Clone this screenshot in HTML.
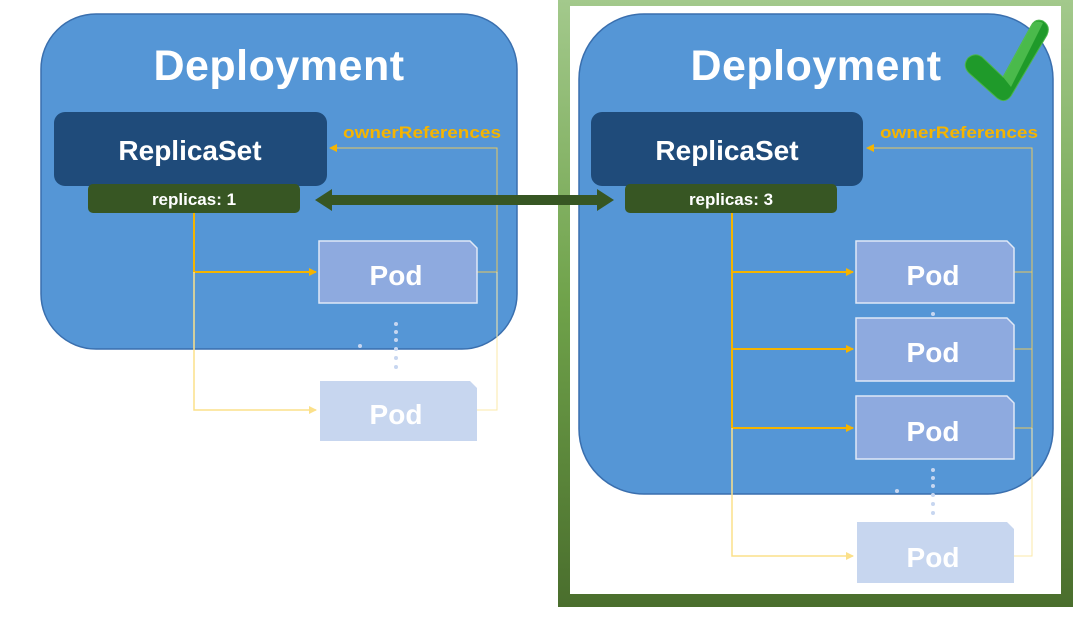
<!DOCTYPE html>
<html><head><meta charset="utf-8"><style>
html,body{margin:0;padding:0;background:#fff;}
svg{display:block;font-family:"Liberation Sans",sans-serif;}
.t{fill:#fff;font-weight:bold;text-anchor:middle;}
</style></head><body>
<svg width="1085" height="617" viewBox="0 0 1085 617">
<defs>
<linearGradient id="fr" x1="0" y1="0" x2="0" y2="1">
<stop offset="0" stop-color="#a3c98c"/><stop offset="0.5" stop-color="#6fa24a"/><stop offset="1" stop-color="#4a6e2d"/>
</linearGradient>
<marker id="ay" markerWidth="8" markerHeight="8" refX="7" refY="4" orient="auto" markerUnits="userSpaceOnUse"><path d="M0,0 L8,4 L0,8z" fill="#f5b400"/></marker>
<marker id="ayf" markerWidth="8" markerHeight="8" refX="7" refY="4" orient="auto" markerUnits="userSpaceOnUse"><path d="M0,0 L8,4 L0,8z" fill="#fbe08a"/></marker>
</defs>
<rect x="558" y="0" width="515" height="607" fill="url(#fr)"/>
<rect x="570" y="6" width="491" height="588" fill="#fff"/>

<rect x="41" y="14" width="476" height="335" rx="55" fill="#5596d6" stroke="#3a6fae" stroke-width="1.5"/>
<text x="279" y="80" class="t" font-size="43" letter-spacing="0.5">Deployment</text>
<rect x="54" y="112" width="273" height="74" rx="11" fill="#1f4b7a"/>
<text x="190" y="160" class="t" font-size="28">ReplicaSet</text>
<rect x="88" y="184" width="212" height="29" rx="5" fill="#375623"/>
<text x="194" y="205" class="t" font-size="17">replicas: 1</text>
<polyline points="194,213 194,272 316,272" fill="none" stroke="#f5b400" stroke-width="2" marker-end="url(#ay)"/>
<polyline points="194,272 194,410 316,410" fill="none" stroke="#fbe08a" stroke-width="1.5" marker-end="url(#ayf)"/>
<polyline points="477,272 497,272 497,148 330,148" fill="none" stroke="#e8c860" stroke-width="1" marker-end="url(#ay)"/>
<polyline points="477,410 497,410 497,272" fill="none" stroke="#fbe9a8" stroke-width="1"/>
<path d="M319,241 H470 L477,248 V303 H319Z" fill="#8eaadf" stroke="#dfe8f7" stroke-width="1.5"/>
<text x="396" y="285" class="t" font-size="28">Pod</text>
<path d="M320,381 H470 L477,388 V441 H320Z" fill="#c7d6ef"/>
<text x="396" y="424" class="t" font-size="28">Pod</text>
<g fill="#c7d6f0"><circle cx="396" cy="324" r="2"/><circle cx="396" cy="332" r="2"/><circle cx="396" cy="340" r="2"/><circle cx="396" cy="349" r="2"/><circle cx="396" cy="358" r="2"/><circle cx="396" cy="367" r="2"/><circle cx="360" cy="346" r="2"/></g>

<rect x="579" y="14" width="474" height="480" rx="65" fill="#5596d6" stroke="#3a6fae" stroke-width="1.5"/>
<text x="816" y="80" class="t" font-size="43" letter-spacing="0.5">Deployment</text>
<rect x="591" y="112" width="272" height="74" rx="11" fill="#1f4b7a"/>
<text x="727" y="160" class="t" font-size="28">ReplicaSet</text>
<rect x="625" y="184" width="212" height="29" rx="5" fill="#375623"/>
<text x="731" y="205" class="t" font-size="17">replicas: 3</text>
<polyline points="732,213 732,428" fill="none" stroke="#f5b400" stroke-width="2"/>
<line x1="732" y1="272" x2="853" y2="272" stroke="#f5b400" stroke-width="2" marker-end="url(#ay)"/>
<line x1="732" y1="349" x2="853" y2="349" stroke="#f5b400" stroke-width="2" marker-end="url(#ay)"/>
<line x1="732" y1="428" x2="853" y2="428" stroke="#f5b400" stroke-width="2" marker-end="url(#ay)"/>
<polyline points="732,428 732,556 853,556" fill="none" stroke="#fbe08a" stroke-width="1.5" marker-end="url(#ayf)"/>
<polyline points="1014,428 1032,428 1032,148 867,148" fill="none" stroke="#e8c860" stroke-width="1" marker-end="url(#ay)"/>
<line x1="1014" y1="272" x2="1032" y2="272" stroke="#e8c860" stroke-width="1"/>
<line x1="1014" y1="349" x2="1032" y2="349" stroke="#e8c860" stroke-width="1"/>
<polyline points="1014,556 1032,556 1032,428" fill="none" stroke="#fbe9a8" stroke-width="1"/>
<g fill="#c7d6f0"><circle cx="933" cy="314" r="2"/></g>
<path d="M856,241 H1007 L1014,248 V303 H856Z" fill="#8eaadf" stroke="#dfe8f7" stroke-width="1.5"/>
<text x="933" y="285" class="t" font-size="28">Pod</text>
<path d="M856,318 H1007 L1014,325 V381 H856Z" fill="#8eaadf" stroke="#dfe8f7" stroke-width="1.5"/>
<text x="933" y="362" class="t" font-size="28">Pod</text>
<path d="M856,396 H1007 L1014,403 V459 H856Z" fill="#8eaadf" stroke="#dfe8f7" stroke-width="1.5"/>
<text x="933" y="441" class="t" font-size="28">Pod</text>
<path d="M857,522 H1007 L1014,529 V583 H857Z" fill="#c7d6ef"/>
<text x="933" y="567" class="t" font-size="28">Pod</text>

<g fill="#f5b400" font-weight="bold" font-size="17">
<text x="343" y="138" textLength="158" lengthAdjust="spacingAndGlyphs">ownerReferences</text>
<text x="880" y="138" textLength="158" lengthAdjust="spacingAndGlyphs">ownerReferences</text>
</g>
<g fill="#c7d6f0"><circle cx="933" cy="470" r="2"/><circle cx="933" cy="478" r="2"/><circle cx="933" cy="486" r="2"/><circle cx="933" cy="495" r="2"/><circle cx="933" cy="504" r="2"/><circle cx="933" cy="513" r="2"/><circle cx="897" cy="491" r="2"/></g>

<path d="M315,200 L332,189 V195 H597 V189 L614,200 L597,211 V205 H332 V211Z" fill="#375623"/>

<path d="M968,58 Q962,66 969,73 L997,98 Q1005,104 1011,96 L1047,35 Q1051,26 1043,21 Q1035,18 1031,26 L1003,77 L982,57 Q975,52 968,58Z" fill="#1f9a2a" stroke="#4cb64c" stroke-width="1"/>
<path d="M1003,77 L1031,26 Q1036,19 1043,23 L1011,87Z" fill="#5cc85a" opacity="0.7"/>
</svg>
</body></html>
